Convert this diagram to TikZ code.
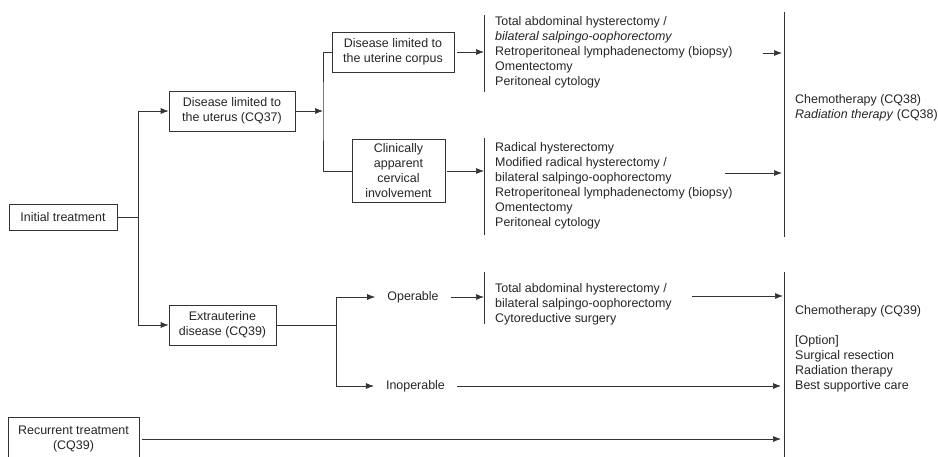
\documentclass[tikz,border=0pt]{standalone}
\usepackage{fontspec}
\setmainfont{Liberation Sans}
\usetikzlibrary{arrows.meta}
\begin{document}
\begin{tikzpicture}[x=1pt,y=-1pt,
  every node/.style={font=\fontsize{12.45}{15}\selectfont, text=black!85},
  box/.style={draw=black!80, line width=0.7pt, align=center, inner sep=0pt},
  lbl/.style={align=left, inner sep=0pt, anchor=west},
  plain/.style={inner xsep=12pt, inner ysep=0pt},
  ln/.style={line width=0.7pt, draw=black!80},
  arr/.style={ln, -{Latex[length=8pt,width=6pt]}}]
\useasboundingbox (0,0) rectangle (938,456);
\fill[white] (0,0) rectangle (938,456);

% boxes
\node[box, minimum width=108pt, minimum height=26pt] (init) at (63,217) {Initial treatment};
\node[box, minimum width=126pt, minimum height=40pt] (uterus) at (232,111) {Disease limited to\\the uterus (CQ37)};
\node[box, minimum width=122pt, minimum height=40pt] (corpus) at (393,52) {Disease limited to\\the uterine corpus};
\node[box, minimum width=93pt, minimum height=63pt] (cerv) at (398.5,171) {Clinically\\apparent\\cervical\\involvement};
\node[box, minimum width=107pt, minimum height=40pt] (extra) at (222.5,325) {Extrauterine\\disease (CQ39)};
\node[box, minimum width=131pt, minimum height=44pt] (recur) at (73.5,439) {Recurrent treatment\\(CQ39)};

% plain labels
\node[plain] (oper) at (413,297) {Operable};
\node[plain] (inop) at (415.5,386) {Inoperable};

% lists
\node[lbl] (t1) at (495,52) {Total abdominal hysterectomy /\\\textit{bilateral salpingo-oophorectomy}\\Retroperitoneal lymphadenectomy (biopsy)\\Omentectomy\\Peritoneal cytology};
\node[lbl] (t2) at (495,186) {Radical hysterectomy\\Modified radical hysterectomy /\\bilateral salpingo-oophorectomy\\Retroperitoneal lymphadenectomy (biopsy)\\Omentectomy\\Peritoneal cytology};
\node[lbl] (t3) at (495,304) {Total abdominal hysterectomy /\\bilateral salpingo-oophorectomy\\Cytoreductive surgery};
\node[lbl] (r1) at (795,108) {Chemotherapy (CQ38)\\\textit{Radiation therapy} (CQ38)};
\node[lbl] (r2) at (795,349) {Chemotherapy (CQ39)\\[15pt]{[Option]}\\Surgical resection\\Radiation therapy\\Best supportive care};

% connectors left part
\draw[ln] (init.east) -- (138.5,217) coordinate (j1);
\draw[arr] (j1) |- (uterus.west);
\draw[arr] (j1) |- (extra.west);
\draw[arr] (uterus.east) -- (323,111) coordinate (j2);
\draw[ln] (corpus.west) -| (j2) |- (cerv.west);
\draw[ln] (extra.east) -- (336,325) coordinate (j3);
\draw[arr] (j3) |- (oper.west);
\draw[arr] (j3) |- (inop.west);

% brackets
\draw[ln] (484,15) coordinate (b1t) -- (484,92);
\draw[ln] (484,138) coordinate (b2t) -- (484,235);
\draw[ln] (484,272) coordinate (b3t) -- (484,324);
\draw[arr] ([xshift=3pt]corpus.east) -- (b1t |- corpus.east);
\draw[arr] ([xshift=2pt]cerv.east) -- (b2t |- cerv.east);
\draw[arr] (oper.east) -- (b3t |- oper.east);

% right verticals
\draw[ln] (784,12) coordinate (v1t) -- (784,237);
\draw[ln] (784,272) coordinate (v2t) -- (784,460);

% arrows to the right
\coordinate (s1) at (763,53);
\coordinate (s2) at (725,173);
\coordinate (s3) at (692,296);
\draw[arr] (s1) -- ([xshift=-2pt]v1t |- s1);
\draw[arr] (s2) -- ([xshift=-2pt]v1t |- s2);
\draw[arr] (s3) -- ([xshift=-1pt]v2t |- s3);
\draw[arr] (inop.east) -- ([xshift=-3pt]v2t |- inop.east);
\draw[arr] ([xshift=3pt]recur.east) -- ([xshift=-3pt]v2t |- recur.east);
\end{tikzpicture}
\end{document}
